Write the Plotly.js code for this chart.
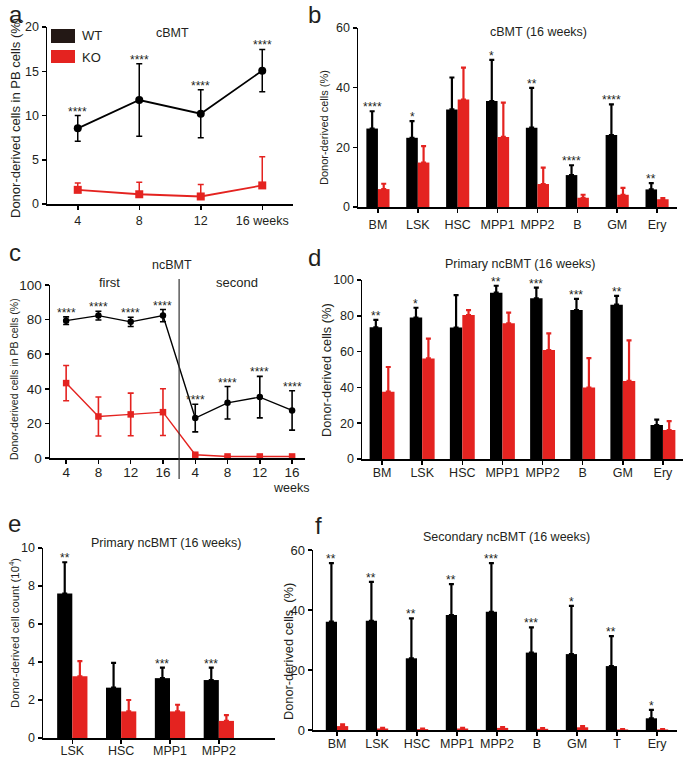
<!DOCTYPE html>
<html><head><meta charset="utf-8">
<script src="https://cdn.plot.ly/plotly-3.0.1.min.js"></script>
<style>html,body{margin:0;padding:0;background:#fff}#chart{width:685px;height:759px}</style>
</head><body><div id="chart"></div>
<script>
// ---------- Panel a: cBMT PB chimerism ----------
const aWeeks = [4, 8, 12, 16];
const aTickText = ['4', '8', '12', '16 weeks'];
const aWT = [8.55, 11.75, 10.2, 15.07];
const aWTerr = [1.45, 4.1, 2.7, 2.4];
const aKO = [1.6, 1.1, 0.85, 2.1];
const aKOerr = [0.77, 1.35, 1.35, 3.25];
const aStars = ['****', '****', '****', '****'];

// ---------- Panel b: cBMT (16 weeks) ----------
const bCats = ['BM', 'LSK', 'HSC', 'MPP1', 'MPP2', 'B', 'GM', 'Ery'];
const bWT = [26.3, 23.2, 32.7, 35.5, 26.6, 10.7, 24.1, 5.9];
const bWTerr = [5.8, 5.6, 10.7, 13.8, 13.3, 3.3, 10.3, 2.1];
const bKO = [6.0, 14.9, 36.0, 23.5, 7.7, 3.1, 4.1, 2.6];
const bKOerr = [1.8, 5.5, 10.7, 11.5, 5.5, 1.0, 2.3, 0.4];
const bStars = ['****', '*', '', '*', '**', '****', '****', '**'];

// ---------- Panel c: ncBMT PB chimerism ----------
const cTickText = ['4', '8', '12', '16', '4', '8', '12', '16'];
const cWT = [79.4, 82.3, 78.7, 82.3, 23.1, 31.9, 35.2, 27.5];
const cWTerr = [2.2, 2.5, 2.7, 3.5, 8.0, 9.4, 12.0, 11.4];
const cKO = [43.3, 24.0, 25.2, 26.5, 1.9, 0.9, 0.9, 0.9];
const cKOerr = [10.2, 11.3, 12.3, 13.5, 0.6, 0.4, 0.4, 0.4];
const cStars = ['****', '****', '****', '****', '****', '****', '****', '****'];

// ---------- Panel d: Primary ncBMT (16 weeks) ----------
const dCats = ['BM', 'LSK', 'HSC', 'MPP1', 'MPP2', 'B', 'GM', 'Ery'];
const dWT = [73.6, 79.0, 73.4, 92.9, 89.8, 83.2, 86.2, 19.0];
const dWTerr = [4.1, 5.5, 18.2, 3.9, 5.9, 6.2, 4.9, 3.0];
const dKO = [37.6, 56.2, 80.4, 75.8, 60.9, 39.9, 43.6, 16.2];
const dKOerr = [13.8, 11.0, 2.8, 6.0, 9.3, 16.5, 22.7, 5.0];
const dStars = ['**', '*', '', '**', '***', '***', '**', ''];

// ---------- Panel e: Primary ncBMT cell count ----------
const eCats = ['LSK', 'HSC', 'MPP1', 'MPP2'];
const eWT = [7.6, 2.65, 3.15, 3.05];
const eWTerr = [1.65, 1.3, 0.55, 0.65];
const eKO = [3.25, 1.4, 1.4, 0.9];
const eKOerr = [0.8, 0.6, 0.35, 0.3];
const eStars = ['**', '', '***', '***'];

// ---------- Panel f: Secondary ncBMT (16 weeks) ----------
const fCats = ['BM', 'LSK', 'HSC', 'MPP1', 'MPP2', 'B', 'GM', 'T', 'Ery'];
const fWT = [36.1, 36.4, 23.9, 38.3, 39.4, 25.8, 25.3, 21.3, 3.9];
const fWTerr = [19.5, 13.0, 13.3, 10.3, 16.2, 8.4, 16.1, 10.0, 2.8];
const fKO = [1.3, 0.5, 0.3, 0.5, 0.7, 0.4, 0.9, 0.2, 0.2];
const fKOerr = [0.6, 0.2, 0.2, 0.2, 0.3, 0.2, 0.4, 0.1, 0.1];
const fStars = ['**', '**', '**', '**', '***', '***', '*', '**', '*'];

// ---------- helpers ----------
const W = 685, H = 759;
const px = x => x / W;
const py = y => 1 - y / H;
const FONT = 'Arial, "Liberation Sans", Helvetica, sans-serif';
const BLACK = '#000000';
const RED = '#e42320';
const TXT = '#231f20';

function xAxis(x0, x1, anchor, extra) {
  return Object.assign({
    domain: [px(x0), px(x1)], anchor: anchor,
    showline: true, linecolor: BLACK, linewidth: 1.5,
    ticks: 'outside', ticklen: 4, tickwidth: 1.5, tickcolor: BLACK,
    showgrid: false, zeroline: false, fixedrange: true,
    tickfont: {size: 12.5, color: TXT, family: FONT}
  }, extra);
}
function yAxis(yBottom, yTop, anchor, extra) {
  return Object.assign({
    domain: [py(yBottom), py(yTop)], anchor: anchor,
    showline: true, linecolor: BLACK, linewidth: 1.5,
    ticks: 'outside', ticklen: 4, tickwidth: 1.5, tickcolor: BLACK,
    showgrid: false, zeroline: false, fixedrange: true,
    tickfont: {size: 12.5, color: TXT, family: FONT}
  }, extra);
}
const zerosOf = arr => arr.map(() => 0);

function barPair(cats, wt, wtErr, ko, koErr, w, xa, ya) {
  return [
    {type: 'bar', x: cats, y: wt, width: w, offset: -w, xaxis: xa, yaxis: ya,
     marker: {color: BLACK, line: {width: 0}}, showlegend: false, hoverinfo: 'y',
     error_y: {type: 'data', symmetric: false, array: wtErr, arrayminus: zerosOf(wtErr),
               color: BLACK, thickness: 2.2, width: 2.5}},
    {type: 'bar', x: cats, y: ko, width: w, offset: 0, xaxis: xa, yaxis: ya,
     marker: {color: RED, line: {width: 0}}, showlegend: false, hoverinfo: 'y',
     error_y: {type: 'data', symmetric: false, array: koErr, arrayminus: zerosOf(koErr),
               color: RED, thickness: 2.2, width: 2.5}}
  ];
}
function starAnns(positions, tops, errs, stars, xa, ya, size) {
  const out = [];
  stars.forEach((s, i) => {
    if (!s) return;
    out.push({xref: xa, yref: ya, x: positions[i], y: tops[i] + errs[i], text: s,
              showarrow: false, yanchor: 'bottom', yshift: -5,
              font: {size: size || 12, color: TXT, family: FONT}});
  });
  return out;
}
function paperText(text, x, y, size, opts) {
  return Object.assign({xref: 'paper', yref: 'paper', x: px(x), y: py(y), text: text,
    showarrow: false, xanchor: 'center', yanchor: 'middle',
    font: {size: size, color: TXT, family: FONT}}, opts || {});
}

const traces = [];

// Panel a
traces.push({type: 'scatter', mode: 'lines+markers', x: aWeeks, y: aWT, xaxis: 'x', yaxis: 'y',
  line: {color: BLACK, width: 1.8}, marker: {symbol: 'circle', size: 8, color: BLACK},
  error_y: {type: 'data', array: aWTerr, color: BLACK, thickness: 1.5, width: 3},
  cliponaxis: false, showlegend: false});
traces.push({type: 'scatter', mode: 'lines+markers', x: aWeeks, y: aKO, xaxis: 'x', yaxis: 'y',
  line: {color: RED, width: 1.8}, marker: {symbol: 'square', size: 8, color: RED},
  error_y: {type: 'data', symmetric: false, array: aKOerr, arrayminus: zerosOf(aKOerr), color: RED, thickness: 1.5, width: 3},
  cliponaxis: false, showlegend: false});

// Panel b
const wB = 0.29;
traces.push(...barPair(bCats, bWT, bWTerr, bKO, bKOerr, wB, 'x2', 'y2'));

// Panel c
const cIdx = cTickText.map((_, i) => i + 1);
traces.push({type: 'scatter', mode: 'lines+markers', x: cIdx, y: cWT, xaxis: 'x3', yaxis: 'y3',
  line: {color: BLACK, width: 1.4}, marker: {symbol: 'circle', size: 6.5, color: BLACK},
  error_y: {type: 'data', array: cWTerr, color: BLACK, thickness: 1.6, width: 3},
  cliponaxis: false, showlegend: false});
traces.push({type: 'scatter', mode: 'lines+markers', x: cIdx, y: cKO, xaxis: 'x3', yaxis: 'y3',
  line: {color: RED, width: 1.4}, marker: {symbol: 'square', size: 6.5, color: RED},
  error_y: {type: 'data', array: cKOerr, color: RED, thickness: 1.6, width: 3},
  cliponaxis: false, showlegend: false});

// Panel d
const wD = 0.31;
traces.push(...barPair(dCats, dWT, dWTerr, dKO, dKOerr, wD, 'x4', 'y4'));

// Panel e
const wE = 0.31;
traces.push(...barPair(eCats, eWT, eWTerr, eKO, eKOerr, wE, 'x5', 'y5'));

// Panel f
const wF = 0.28;
traces.push(...barPair(fCats, fWT, fWTerr, fKO, fKOerr, wF, 'x6', 'y6'));

// Annotations
const anns = [];
// panel letters
anns.push(paperText('a', 16, 14, 24));
anns.push(paperText('b', 314, 15, 24));
anns.push(paperText('c', 15, 252, 24));
anns.push(paperText('d', 314, 257, 24));
anns.push(paperText('e', 14, 523, 24));
anns.push(paperText('f', 318, 525, 24));
// titles
anns.push(paperText('cBMT', 172, 33, 12.5));
anns.push(paperText('cBMT (16 weeks)', 538, 32, 12.5));
anns.push(paperText('ncBMT', 172, 265, 12.5));
anns.push(paperText('first', 109, 282, 13));
anns.push(paperText('second', 237, 282, 13));
anns.push(paperText('weeks', 291, 488, 12.5));
anns.push(paperText('Primary ncBMT (16 weeks)', 520, 264, 12.5));
anns.push(paperText('Primary ncBMT (16 weeks)', 166, 543, 12.5));
anns.push(paperText('Secondary ncBMT (16 weeks)', 506, 537, 12.5));
// y-axis titles
anns.push(paperText('Donor-derived cells in PB cells (%)', 15, 118, 13, {textangle: -90}));
anns.push(paperText('Donor-derived cells (%)', 324, 128, 11, {textangle: -90}));
anns.push(paperText('Donor-derived cells in PB cells (%)', 14, 379, 10.5, {textangle: -90}));
anns.push(paperText('Donor-derived cells (%)', 327, 370, 12.8, {textangle: -90}));
anns.push(paperText('Donor-derived cell count (10<sup>4</sup>)', 14, 633, 11.3, {textangle: -90}));
anns.push(paperText('Donor-derived cells  (%)', 288, 652, 12.8, {textangle: -90}));
// legend texts
anns.push(paperText('WT', 80, 36, 13, {xanchor: 'left'}));
anns.push(paperText('KO', 80, 57, 13, {xanchor: 'left'}));

// significance stars
anns.push(...starAnns(aWeeks, aWT, aWTerr, aStars, 'x', 'y', 12));
anns.push(...starAnns(bCats.map((_, i) => i - wB / 2), bWT, bWTerr, bStars, 'x2', 'y2', 12));
anns.push(...starAnns(cIdx, cWT, cWTerr, cStars, 'x3', 'y3', 12));
anns.push(...starAnns(dCats.map((_, i) => i - wD / 2), dWT, dWTerr, dStars, 'x4', 'y4', 12));
anns.push(...starAnns(eCats.map((_, i) => i - wE / 2), eWT, eWTerr, eStars, 'x5', 'y5', 12));
anns.push(...starAnns(fCats.map((_, i) => i - wF / 2), fWT, fWTerr, fStars, 'x6', 'y6', 12));

const shapes = [
  // legend swatches (panel a)
  {type: 'rect', xref: 'paper', yref: 'paper', x0: px(51), x1: px(75), y0: py(43), y1: py(29), fillcolor: '#231815', line: {width: 0}},
  {type: 'rect', xref: 'paper', yref: 'paper', x0: px(51), x1: px(75), y0: py(63), y1: py(50), fillcolor: RED, line: {width: 0}},
  // divider between first and second transplant (panel c)
  {type: 'line', xref: 'x3', yref: 'paper', x0: 4.5, x1: 4.5, y0: py(479), y1: py(279), line: {color: '#333', width: 1.2}}
];

const layout = {
  width: W, height: H, margin: {l: 0, r: 0, t: 0, b: 0},
  paper_bgcolor: '#fff', plot_bgcolor: 'rgba(0,0,0,0)',
  font: {family: FONT, color: TXT},
  showlegend: false, barmode: 'overlay',
  xaxis: xAxis(47, 293, 'y', {type: 'linear', range: [2, 18], tickvals: aWeeks, ticktext: aTickText}),
  yaxis: yAxis(204, 27, 'x', {range: [0, 20], dtick: 5}),
  xaxis2: xAxis(358, 677, 'y2', {type: 'category', range: [-0.5, 7.5], ticklabelstandoff: 1}),
  yaxis2: yAxis(207, 28, 'x2', {range: [0, 60], dtick: 20}),
  xaxis3: xAxis(50, 305, 'y3', {type: 'linear', range: [0.5, 8.4], tickvals: cIdx, ticktext: cTickText, ticklabelstandoff: -3, tickfont: {size: 13.5, color: TXT, family: FONT}}),
  yaxis3: yAxis(458, 285, 'x3', {range: [0, 100], dtick: 20, tickfont: {size: 13.5, color: TXT, family: FONT}}),
  xaxis4: xAxis(362, 683, 'y4', {type: 'category', range: [-0.5, 7.5], ticklabelstandoff: -3}),
  yaxis4: yAxis(459, 280, 'x4', {range: [0, 100], dtick: 20}),
  xaxis5: xAxis(43, 275, 'y5', {type: 'category', range: [-0.6, 4.15], ticklabelstandoff: -4}),
  yaxis5: yAxis(738, 548, 'x5', {range: [0, 10], dtick: 2}),
  xaxis6: xAxis(313, 677, 'y6', {type: 'category', range: [-0.6, 8.5], ticklabelstandoff: -3}),
  yaxis6: yAxis(730, 550, 'x6', {range: [0, 60], dtick: 20, tickfont: {size: 13, color: TXT, family: FONT}}),
  annotations: anns,
  shapes: shapes
};

Plotly.newPlot('chart', traces, layout, {staticPlot: true, displayModeBar: false});
</script>
</body></html>
